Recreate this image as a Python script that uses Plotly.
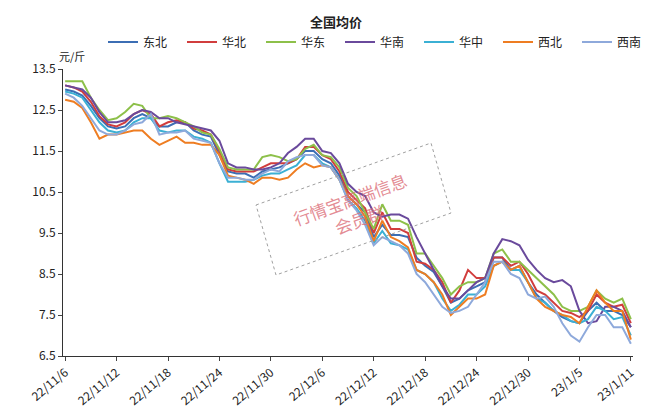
import plotly.graph_objects as go
import pandas as pd

dates = pd.date_range("2022-11-06", "2023-01-11", freq="D")
names = ["东北", "华北", "华东", "华南", "华中", "西北", "西南"]
colors = ["#3C6EB4", "#D13D3D", "#8DC04A", "#6A4A9C", "#3BB0D4", "#EE7D22", "#8EA9DB"]

dongbei = [13.0,12.95,12.85,12.6,12.3,12.1,12.05,12.1,12.3,12.4,
 12.3,12.1,12.1,12.2,12.2,12.0,11.9,11.85,11.4,11.0,
 10.95,10.95,10.85,11.0,11.05,11.1,11.2,11.3,11.5,11.5,
 11.3,11.2,10.9,10.4,10.2,10.0,9.4,9.7,9.45,9.45,
 9.4,8.9,8.7,8.55,8.2,7.8,7.9,8.1,8.2,8.3,
 8.9,8.9,8.6,8.7,8.3,8.0,7.8,7.6,7.45,7.35,
 7.3,7.6,7.8,7.6,7.6,7.5,7.2]
huabei = [13.1,13.05,12.95,12.7,12.35,12.15,12.1,12.2,12.4,12.5,
 12.4,12.1,12.2,12.25,12.2,12.05,12.0,11.9,11.5,11.05,
 11.0,11.0,11.0,11.1,11.2,11.2,11.2,11.3,11.6,11.6,
 11.4,11.3,11.0,10.5,10.3,10.1,9.5,10.0,9.6,9.6,
 9.5,8.8,8.75,8.6,8.3,7.8,8.1,8.6,8.4,8.4,
 8.9,8.9,8.7,8.8,8.5,8.1,8.0,7.8,7.6,7.55,
 7.45,7.6,8.0,7.8,7.7,7.75,7.3]
huadong = [13.2,13.2,13.2,12.8,12.5,12.25,12.3,12.45,12.65,12.6,
 12.3,12.3,12.35,12.3,12.2,12.1,11.95,11.9,11.55,11.1,
 11.05,11.05,11.05,11.35,11.4,11.35,11.25,11.3,11.55,11.65,
 11.4,11.35,11.1,10.6,10.4,10.0,9.6,10.2,9.8,9.8,
 9.7,9.0,9.0,8.7,8.4,8.0,8.2,8.3,8.3,8.4,
 9.0,9.1,8.8,8.8,8.6,8.4,8.2,8.0,7.7,7.6,
 7.6,7.7,8.1,7.9,7.8,7.9,7.4]
huanan = [13.1,13.05,13.0,12.8,12.45,12.2,12.2,12.25,12.4,12.5,
 12.45,12.3,12.3,12.2,12.15,12.1,12.05,12.0,11.75,11.2,
 11.1,11.1,11.05,11.05,11.1,11.2,11.45,11.6,11.8,11.8,
 11.5,11.45,11.2,10.7,10.5,10.4,10.0,9.9,9.95,9.95,
 9.85,9.4,9.0,8.6,8.2,7.9,7.9,8.1,8.3,8.4,
 9.0,9.35,9.3,9.2,8.85,8.6,8.4,8.3,8.35,8.2,
 7.6,7.3,7.35,7.7,7.7,7.6,7.2]
huazhong = [12.95,12.9,12.8,12.5,12.2,12.0,11.95,12.0,12.2,12.3,
 12.3,12.0,11.95,12.0,12.0,11.85,11.8,11.7,11.2,10.75,
 10.75,10.75,10.8,10.9,10.95,10.95,11.05,11.15,11.4,11.4,
 11.2,11.1,10.8,10.3,10.1,9.8,9.25,9.55,9.25,9.2,
 9.1,8.6,8.5,8.3,7.9,7.6,7.75,8.0,8.0,8.2,
 8.7,8.8,8.6,8.6,8.3,7.9,7.8,7.6,7.5,7.35,
 7.3,7.4,7.7,7.6,7.4,7.45,7.0]
xibei = [12.75,12.7,12.55,12.2,11.8,11.9,11.9,11.95,12.0,12.0,
 11.8,11.65,11.75,11.85,11.7,11.7,11.65,11.65,11.4,10.9,
 10.85,10.8,10.7,10.85,10.85,10.8,10.85,11.05,11.2,11.1,
 11.15,11.1,10.8,10.4,10.2,9.9,9.3,9.8,9.4,9.3,
 9.15,8.6,8.5,8.3,8.0,7.5,7.7,7.9,7.9,8.0,
 8.7,8.8,8.6,8.7,8.3,7.9,7.7,7.6,7.5,7.45,
 7.3,7.7,8.1,7.8,7.6,7.6,6.9]
xinan = [12.9,12.8,12.6,12.3,12.0,11.9,11.9,12.0,12.15,12.2,
 12.4,11.9,11.95,11.95,12.0,11.8,11.75,11.7,11.2,10.85,
 10.85,10.8,10.8,10.95,11.05,11.0,11.25,11.35,11.4,11.4,
 11.15,11.1,10.8,10.3,10.05,9.7,9.2,9.4,9.3,9.2,
 9.0,8.5,8.3,8.0,7.7,7.55,7.6,7.7,8.0,8.3,
 8.8,8.8,8.5,8.4,8.0,7.9,7.95,7.7,7.3,7.0,
 6.85,7.2,7.5,7.5,7.2,7.2,6.8]
series = [dongbei, huabei, huadong, huanan, huazhong, xibei, xinan]
tick_vals = [6.5, 7.5, 8.5, 9.5, 10.5, 11.5, 12.5, 13.5]

fig = go.Figure()
for n, c, s in zip(names, colors, series):
    fig.add_trace(go.Scatter(x=dates[:len(s)], y=s, name=n, mode="lines",
                             line=dict(color=c, width=2)))

L, R, T, B = 55, 625, 61, 348
def px(x): return (x - L) / (R - L)
def py(y): return (B - y) / (B - T)
corners = [(248, 197), (423, 135), (443, 205), (268, 267)]
path = "M " + " L ".join(f"{px(a)},{py(b)}" for a, b in corners) + " Z"
fig.add_shape(type="path", path=path, xref="paper", yref="paper",
              line=dict(color="#A0A0A0", width=1, dash="dot"))
fig.add_annotation(x=px(345), y=py(201), xref="paper", yref="paper",
                   text="行情宝高端信息<br> 会员群", showarrow=False, textangle=-20,
                   font=dict(size=17, color="rgba(220,110,120,0.8)"))

fig.update_layout(
    width=656, height=412, plot_bgcolor="white", paper_bgcolor="white",
    margin=dict(l=L, r=656 - R, t=T, b=412 - B, autoexpand=False),
    font=dict(family="Noto Sans CJK SC", size=12, color="#222"),
    title=dict(text="<b>全国均价</b>", x=0.5, xanchor="center", y=0.975, yanchor="top",
               font=dict(size=13)),
    showlegend=True,
    legend=dict(orientation="h", x=px(95), y=py(34), xanchor="left", yanchor="middle",
                font=dict(size=12), entrywidth=34, entrywidthmode="pixels"),
)
fig.add_annotation(x=-0.01, y=py(48), xref="paper", yref="paper", text="元/斤",
                   showarrow=False, xanchor="left", yanchor="middle", font=dict(size=11))
fig.update_yaxes(range=[6.5, 13.5], tickvals=tick_vals, tickformat=".1f",
                 showline=True, linecolor="#333", ticks="outside", ticklen=4,
                 showgrid=False, zeroline=False, tickfont=dict(size=12))
fig.update_xaxes(range=[dates[0] - pd.Timedelta(hours=6), dates[-1] + pd.Timedelta(hours=6)],
                 tickvals=dates[::6], tickformat="%y/%-m/%-d", tickangle=-40,
                 showline=True, linecolor="#333", ticks="outside", ticklen=4,
                 showgrid=False, tickfont=dict(size=12))
fig.write_html("out.html")
